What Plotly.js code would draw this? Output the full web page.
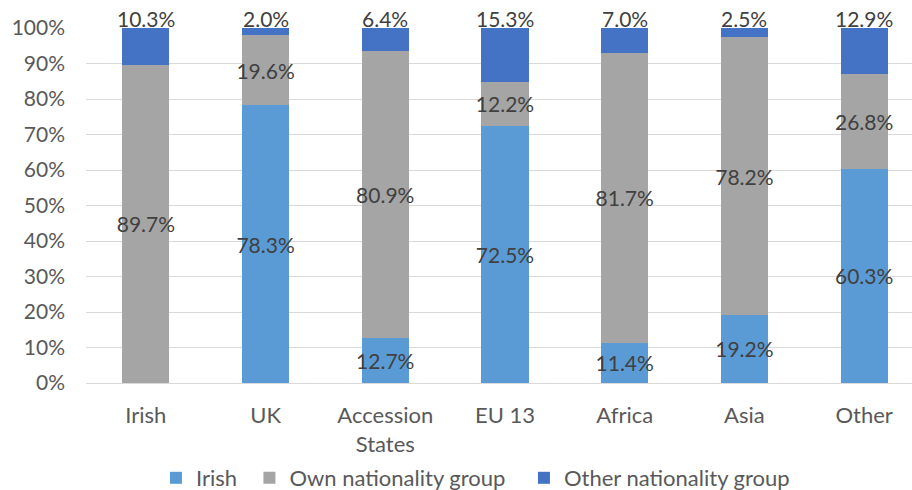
<!DOCTYPE html>
<html>
<head>
<meta charset="utf-8">
<script src="https://cdn.plot.ly/plotly-3.0.1.min.js"></script>
<style>html,body{margin:0;padding:0;background:#fff}#chart{width:912px;height:490px}</style>
</head>
<body>
<div id="chart"></div>
<script>
var categories = ["Irish", "UK", "Accession<br>States", "EU 13", "Africa", "Asia", "Other"];
var irishVals = [0, 78.3, 12.7, 72.5, 11.4, 19.2, 60.3];
var ownVals = [89.7, 19.6, 80.9, 12.2, 81.7, 78.2, 26.8];
var otherVals = [10.3, 2.0, 6.4, 15.3, 7.0, 2.5, 12.9];
var seriesNames = ["Irish", "Own nationality group", "Other nationality group"];
var seriesColors = ["#5B9BD5", "#A5A5A5", "#4472C4"];

function labels(arr) { return arr.map(function (v) { return v > 0 ? v.toFixed(1) + "%" : ""; }); }

var font = "Lato, 'Open Sans', sans-serif";
var labelFont = {family: font, size: 21, color: "#404040"};
var allVals = [irishVals, ownVals, otherVals];
var legendIds = ["legend", "legend2", "legend3"];
var legendLeft = [0.171, 0.2735, 0.5745];

var traces = allVals.map(function (vals, i) {
  var t = {
    type: "bar",
    name: seriesNames[i],
    x: categories,
    y: vals,
    legend: legendIds[i],
    marker: {color: seriesColors[i]},
    hoverinfo: "skip"
  };
  if (i < 2) {
    t.text = labels(vals);
    t.textposition = "inside";
    t.insidetextanchor = "middle";
    t.constraintext = "none";
    t.textangle = 0;
    t.cliponaxis = false;
    t.textfont = labelFont;
    t.insidetextfont = labelFont;
  }
  return t;
});

// top-of-stack labels for the "Other nationality group" series
var topLabels = labels(otherVals);
var annotations = categories.map(function (c, j) {
  return {
    x: c, xref: "x",
    y: Math.min(100, irishVals[j] + ownVals[j] + otherVals[j]), yref: "y",
    text: topLabels[j],
    showarrow: false,
    yanchor: "middle",
    yshift: 10,
    font: labelFont
  };
});

var layout = {
  barmode: "stack",
  bargap: 0.607,
  width: 912,
  height: 490,
  margin: {l: 86, r: 0, t: 28, b: 107},
  paper_bgcolor: "#fff",
  plot_bgcolor: "#fff",
  font: {family: font, color: "#595959"},
  showlegend: true,
  annotations: annotations,
  xaxis: {
    type: "category",
    range: [-0.5, 6.4],
    tickfont: {family: font, size: 22, color: "#595959"},
    ticklabelstandoff: 13,
    showgrid: false,
    showline: true,
    linecolor: "#D9D9D9",
    linewidth: 1,
    ticks: "",
    fixedrange: true
  },
  yaxis: {
    range: [0, 100],
    dtick: 10,
    ticksuffix: "%",
    tickfont: {family: font, size: 21, color: "#595959"},
    ticklabelstandoff: 20,
    showgrid: true,
    gridcolor: "#D9D9D9",
    gridwidth: 1,
    zeroline: false,
    ticks: "",
    fixedrange: true
  }
};
legendIds.forEach(function (id, i) {
  layout[id] = {
    orientation: "h",
    xref: "container", yref: "container",
    x: legendLeft[i], xanchor: "left",
    y: 0.0245, yanchor: "middle",
    font: {family: font, size: 22, color: "#595959"},
    itemwidth: 30,
    bgcolor: "rgba(0,0,0,0)"
  };
});

Plotly.newPlot("chart", traces, layout, {displayModeBar: false, staticPlot: true});
</script>
</body>
</html>
